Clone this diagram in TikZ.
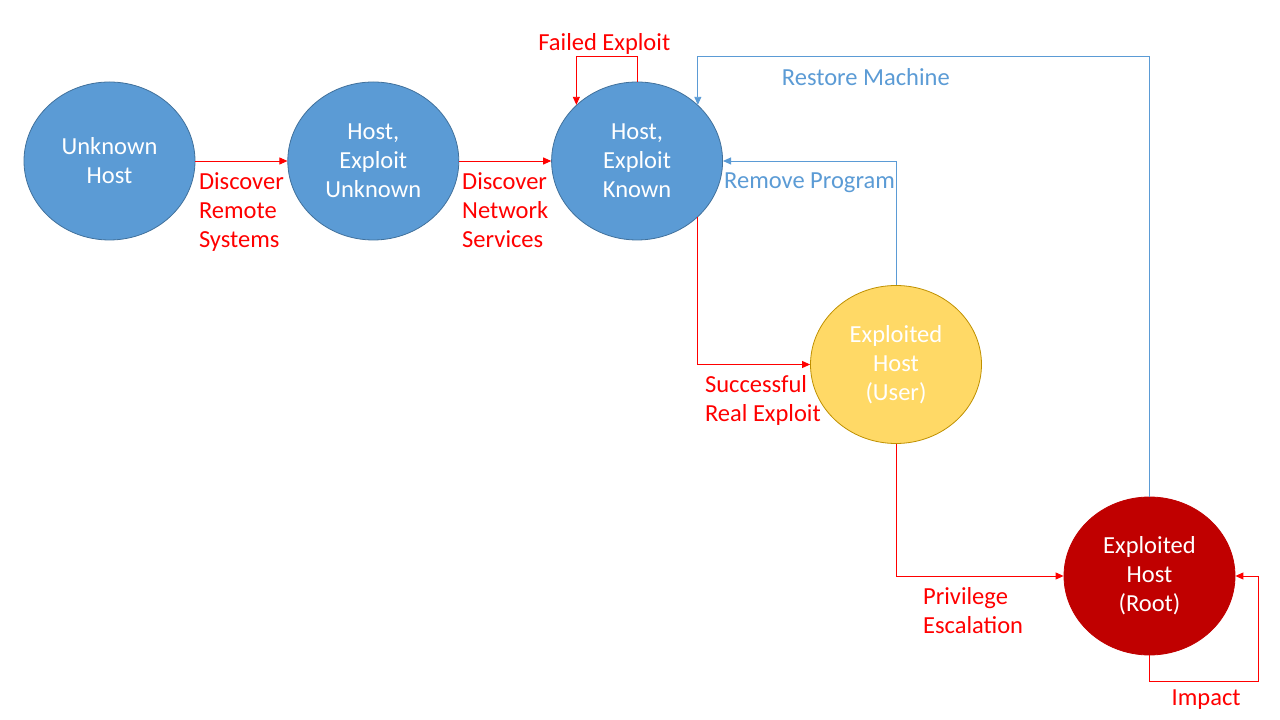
\documentclass[tikz,border=0pt]{standalone}
\usepackage{fontspec}
\setmainfont{Carlito}
\usetikzlibrary{arrows.meta, positioning, shapes.geometric}
\definecolor{hostblue}{HTML}{5B9BD5}
\definecolor{hostedge}{HTML}{41719C}
\definecolor{useryellow}{HTML}{FFD966}
\definecolor{useredge}{HTML}{BF9000}
\definecolor{rootred}{HTML}{C00000}
\definecolor{linered}{HTML}{FF0000}

\begin{document}
\begin{tikzpicture}[
  x=1pt, y=1pt,
  state/.style={ellipse, draw=hostedge, fill=hostblue, line width=0.8pt, minimum width=171pt, minimum height=158pt, inner sep=0pt, align=center, text=white, font=\fontsize{24.5}{29}\selectfont},
  attack/.style={-{Triangle[length=8pt,width=7pt]}, line width=0.9pt, draw=linered},
  defend/.style={-{Triangle[length=8pt,width=7pt]}, line width=0.9pt, draw=hostblue},
  lbl/.style={font=\fontsize{24.5}{29}\selectfont, align=left, inner sep=2pt, below, yshift=-9pt},
  node distance=92pt
]
\useasboundingbox (0,0) rectangle (1280,720);

\node[state] (unknown) at (109.5,559) {Unknown\\Host};
\node[state, right=of unknown] (hosteu) {Host,\\Exploit\\Unknown};
\node[state, right=of hosteu] (hostek) {Host,\\Exploit\\Known};
\node[state, draw=useredge, fill=useryellow] (user) at (896,355.5) {Exploited\\Host\\(User)};
\node[state, draw=rootred, fill=rootred] (root) at (1149.5,144) {Exploited\\Host\\(Root)};

\draw[attack] (unknown) -- (hosteu)
  node[lbl, midway, text=linered] {Discover\\Remote\\Systems};
\draw[attack] (hosteu) -- (hostek)
  node[lbl, midway, text=linered] {Discover\\Network\\Services};
\draw[attack] (hostek.north) -- ++(0,25) -| (hostek.north west)
  node[pos=0.27, above, font=\fontsize{24.5}{29}\selectfont, inner sep=2pt, text=linered] {Failed Exploit};
\draw[attack] (hostek.south east) |- (user.west)
  node[lbl, pos=0.79, text=linered] {Successful\\Real Exploit};
\draw[attack] (user.south) |- (root.west)
  node[lbl, pos=0.73, text=linered] {Privilege\\Escalation};
\draw[attack] (root.south) -- ++(0,-26) -| ([xshift=23pt]root.east)
  node[lbl, pos=0.26, yshift=3pt, text=linered] {Impact} -- (root.east);

\draw[defend] (user.north) |- (hostek.east)
  node[lbl, pos=0.75, text=hostblue] {Remove Program};
\draw[defend] (root.north) |- ([yshift=48pt]hostek.north east)
  node[lbl, pos=0.814, text=hostblue] {Restore Machine} -- (hostek.north east);
\end{tikzpicture}
\end{document}
